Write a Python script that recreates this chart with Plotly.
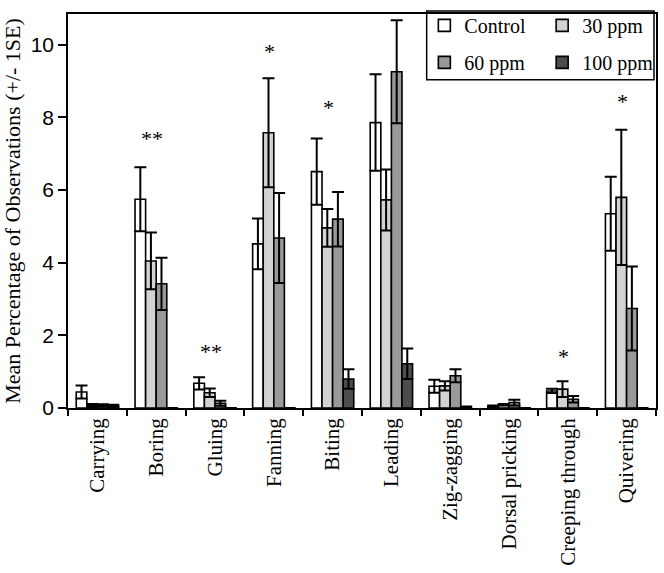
import plotly.graph_objects as go

categories = ["Carrying", "Boring", "Gluing", "Fanning", "Biting", "Leading",
              "Zig-zagging", "Dorsal pricking", "Creeping through", "Quivering"]

control = [0.44, 5.75, 0.68, 4.52, 6.51, 7.86, 0.60, 0.05, 0.47, 5.35]
control_se = [0.18, 0.88, 0.17, 0.70, 0.91, 1.33, 0.18, 0.02, 0.06, 1.02]
ppm30 = [0.07, 4.05, 0.42, 7.58, 4.96, 5.73, 0.61, 0.09, 0.52, 5.80]
ppm30_se = [0.04, 0.78, 0.12, 1.50, 0.52, 0.84, 0.13, 0.02, 0.22, 1.86]
ppm60 = [0.07, 3.42, 0.13, 4.68, 5.20, 9.26, 0.89, 0.15, 0.24, 2.74]
ppm60_se = [0.03, 0.72, 0.07, 1.24, 0.75, 1.42, 0.18, 0.08, 0.09, 1.16]
ppm100 = [0.06, 0.0, 0.0, 0.0, 0.80, 1.22, 0.03, 0.0, 0.0, 0.0]
ppm100_se = [0.03, 0.0, 0.0, 0.0, 0.27, 0.42, 0.01, 0.0, 0.0, 0.0]

sig_categories = ["Boring", "Gluing", "Fanning", "Biting", "Creeping through", "Quivering"]
sig_labels = ["**", "**", "*", "*", "*", "*"]
sig_y = [7.43, 1.55, 9.82, 8.28, 1.41, 8.44]

series = [
    ("Control", control, control_se, "#ffffff", "legend"),
    ("30 ppm", ppm30, ppm30_se, "#d2d2d2", "legend2"),
    ("60 ppm", ppm60, ppm60_se, "#999999", "legend"),
    ("100 ppm", ppm100, ppm100_se, "#4d4d4d", "legend2"),
]

serif = "Liberation Serif, Times New Roman, serif"
sans = "Liberation Sans, Arial, sans-serif"

fig = go.Figure()
for name, vals, se, color, leg in series:
    fig.add_trace(go.Bar(
        x=categories, y=vals, name=name, legend=leg, legendgroup=name,
        marker=dict(color=color, line=dict(color="black", width=1.6)),
        error_y=dict(type="data", array=se, visible=True, color="black",
                     thickness=2, width=6),
    ))

for c, t, yv in zip(sig_categories, sig_labels, sig_y):
    fig.add_annotation(x=c, y=yv, text=t, showarrow=False, xshift=-4,
                       font=dict(family=serif, size=22, color="black"))

fig.add_shape(type="rect", xref="paper", yref="paper",
              x0=0.610, x1=0.9966, y0=0.833, y1=1.0076,
              line=dict(color="black", width=1.5), layer="above")

leg_common = dict(xanchor="left", yanchor="top", bgcolor="rgba(0,0,0,0)",
                  font=dict(family=serif, size=20, color="black"),
                  tracegroupgap=8, itemclick=False)

fig.update_layout(
    width=664, height=573,
    margin=dict(l=68, r=7, t=13, b=165),
    paper_bgcolor="white", plot_bgcolor="white",
    barmode="group", bargap=0.28, bargroupgap=0,
    showlegend=True,
    legend=dict(x=0.605, y=1.018, **leg_common),
    legend2=dict(x=0.805, y=1.018, **leg_common),
    xaxis=dict(type="category", tickson="boundaries", ticks="outside",
               ticklen=6, tickwidth=1.5, tickcolor="black", tickangle=-90,
               showline=True, linecolor="black", linewidth=1.5, mirror=True,
               showgrid=False,
               tickfont=dict(family=serif, size=21, color="black")),
    yaxis=dict(range=[0, 10.85], dtick=2, ticks="outside", ticklen=8,
               tickwidth=1.5, tickcolor="black", showline=True,
               linecolor="black", linewidth=1.5, mirror=True,
               showgrid=False, zeroline=False,
               tickfont=dict(family=sans, size=21, color="black"),
               title=dict(text="Mean Percentage of Observations (+/- 1SE)",
                          font=dict(family=serif, size=22, color="black"),
                          standoff=6)),
)

fig.write_html("out.html", config={"displayModeBar": False},
               post_script="document.body.style.margin='0';")
